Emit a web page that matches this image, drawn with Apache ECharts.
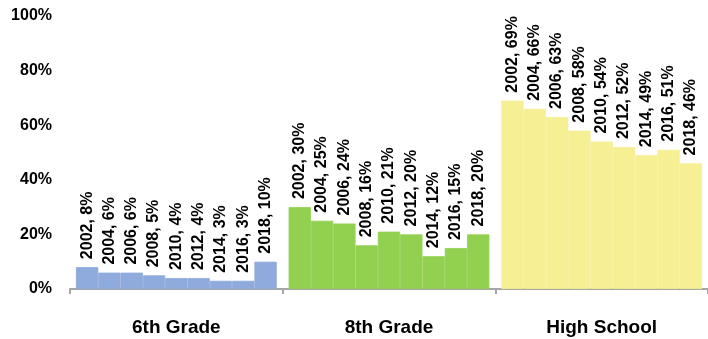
<!DOCTYPE html>
<html><head><meta charset="utf-8">
<script src="https://cdn.jsdelivr.net/npm/echarts@6/dist/echarts.min.js"></script>
<style>html,body{margin:0;padding:0;background:#fff}#c{width:708px;height:339px}</style>
</head><body><div id="c"></div>
<script>
const groups = ['6th Grade', '8th Grade', 'High School'];
const years = ['2002', '2004', '2006', '2008', '2010', '2012', '2014', '2016', '2018'];
const grade6 = [8, 6, 6, 5, 4, 4, 3, 3, 10];
const grade8 = [30, 25, 24, 16, 21, 20, 12, 15, 20];
const highSchool = [69, 66, 63, 58, 54, 52, 49, 51, 46];
const yTicks = [0, 20, 40, 60, 80, 100];
const groupColors = ['#8FAADC', '#92D050', '#F6EF94'];

const FONT = 'Liberation Sans';
const seriesData = [grade6, grade8, highSchool];
const series = years.map((y, i) => ({
  name: y,
  type: 'bar',
  barGap: '0%',
  barCategoryGap: '5.6%',
  data: seriesData.map((arr, g) => ({
    value: arr[i],
    itemStyle: { color: groupColors[g], borderColor: groupColors[g], borderWidth: 0.8 }
  })),
  label: {
    show: true,
    position: 'top',
    rotate: 90,
    align: 'left',
    verticalAlign: 'middle',
    distance: 8,
    fontFamily: FONT,
    fontWeight: 'bold',
    fontSize: 16,
    color: '#000',
    formatter: p => p.seriesName + ', ' + p.value + '%'
  }
}));

const chart = echarts.init(document.getElementById('c'));
chart.setOption({
  animation: false,
  grid: { left: 70, right: -4, top: 16, bottom: 50, containLabel: false },
  xAxis: {
    type: 'category',
    data: groups,
    axisLine: { lineStyle: { color: '#A6A6A6', width: 2 } },
    axisTick: { show: true, length: 5, lineStyle: { color: '#A6A6A6', width: 2 } },
    axisLabel: { fontFamily: FONT, fontWeight: 'bold', fontSize: 19, color: '#000', margin: 29 }
  },
  yAxis: {
    type: 'value',
    min: yTicks[0],
    max: yTicks[yTicks.length - 1],
    interval: 20,
    splitLine: { show: false },
    axisLine: { show: false },
    axisTick: { show: false },
    axisLabel: { fontFamily: FONT, fontWeight: 'bold', fontSize: 16, color: '#000', margin: 18, formatter: '{value}%' }
  },
  series: series
});
</script>
</body></html>
